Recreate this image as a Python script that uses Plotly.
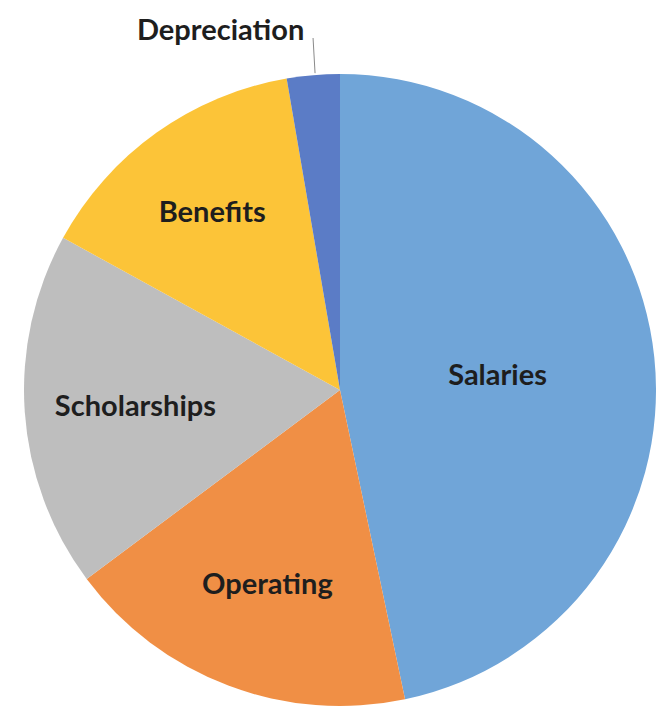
import math
import plotly.graph_objects as go

categories = ["Salaries", "Operating", "Scholarships", "Benefits", "Depreciation"]
values = [46.7, 18.1, 18.2, 14.3, 2.7]
colors = ["#70A5D8", "#F08F45", "#BEBEBE", "#FCC438", "#5B7CC6"]
text_positions = ["inside", "inside", "inside", "inside", "none"]

W, H = 656, 709
CX, CY, R = 342, 390, 318  # pie centre / radius in pixels

FONT = "Lato, Open Sans, sans-serif"

fig = go.Figure(
    go.Pie(
        labels=categories,
        values=values,
        sort=False,
        direction="clockwise",
        rotation=0,
        marker=dict(colors=colors, line=dict(width=0)),
        textinfo="label",
        textposition=text_positions,
        insidetextorientation="horizontal",
        textfont=dict(family=FONT, size=29, color="#1e1e1e", weight="bold"),
        domain=dict(x=[(CX - R) / W, min(1.0, (CX + R) / W)],
                    y=[(H - CY - R) / H, (H - CY + R) / H]),
        showlegend=False,
        hoverinfo="label+percent",
    )
)

# leader line + label for the tiny Depreciation slice, at the slice's mid angle
total = sum(values)
start = sum(values[:-1]) / total * 360
mid = math.radians(start + values[-1] / total * 360 / 2)
ex = CX + R * math.sin(mid)
ey = CY - R * math.cos(mid)
fig.add_shape(type="line", xref="paper", yref="paper",
              x0=ex / W, y0=1 - ey / H, x1=(ex - 2) / W, y1=1 - 38 / H,
              line=dict(color="#8a8a8a", width=1))
fig.add_annotation(text="<b>" + categories[-1] + "</b>", xref="paper", yref="paper",
                   x=(ex - 9) / W, y=1 - 28 / H, xanchor="right", yanchor="middle",
                   showarrow=False, font=dict(family=FONT, size=29, color="#1e1e1e"))

fig.update_layout(
    width=W,
    height=H,
    margin=dict(l=0, r=0, t=0, b=0),
    paper_bgcolor="white",
    plot_bgcolor="white",
)

fig.write_html("out.html",
               config={"displayModeBar": False},
               post_script="document.body.style.margin='0';document.body.style.overflow='hidden';")
